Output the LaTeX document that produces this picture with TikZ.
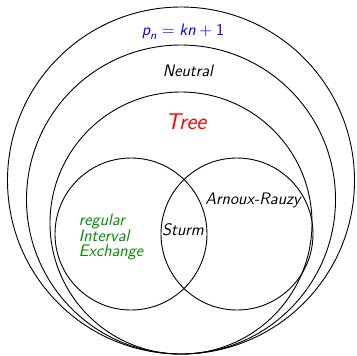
\documentclass[tikz,border=0pt]{standalone}
\usepackage{amsmath}
\usepackage{tikz}
\usetikzlibrary{positioning}

\begin{document}
\begin{tikzpicture}[x=0.66pt, y=-0.66pt,
        set/.style={draw, line width=0.6pt},
        setlabel/.style={font=\fontsize{11}{10}\selectfont\sffamily\itshape, inner sep=1pt},
        biglabel/.style={font=\fontsize{15}{17}\selectfont\sffamily\itshape, inner sep=1pt}]

    \useasboundingbox (0,0) rectangle (357,355);

    % Sets
    \draw[set] (181,180.5) circle (173.5);
    \draw[set] (181,199.5) circle (154.5);
    \draw[set] (181,223) circle (131);
    \draw[set] (131,234) circle (76);
    \draw[set] (237,234) circle (76);

    % Labels
    \node[setlabel, text=blue] (complexity) at (183,32)
        {$\textsf{\textit{p}}_{\textsf{\textit{n}}} = \textsf{\textit{kn}} + \textsf{\upshape 1}$};
    \node[setlabel] (neutral) at (188,71) {Neutral};
    \node[biglabel, text=red] (tree) at (186,122) {Tree};
    \node[setlabel] (ar) at (253,200) {Arnoux-Rauzy};
    \node[setlabel] (sturm) at (183,230) {Sturm};
    \node[setlabel, text=green!55!black, align=left, anchor=west] (rie) at (77,237)
        {regular\\Interval\\Exchange};

\end{tikzpicture}
\end{document}
